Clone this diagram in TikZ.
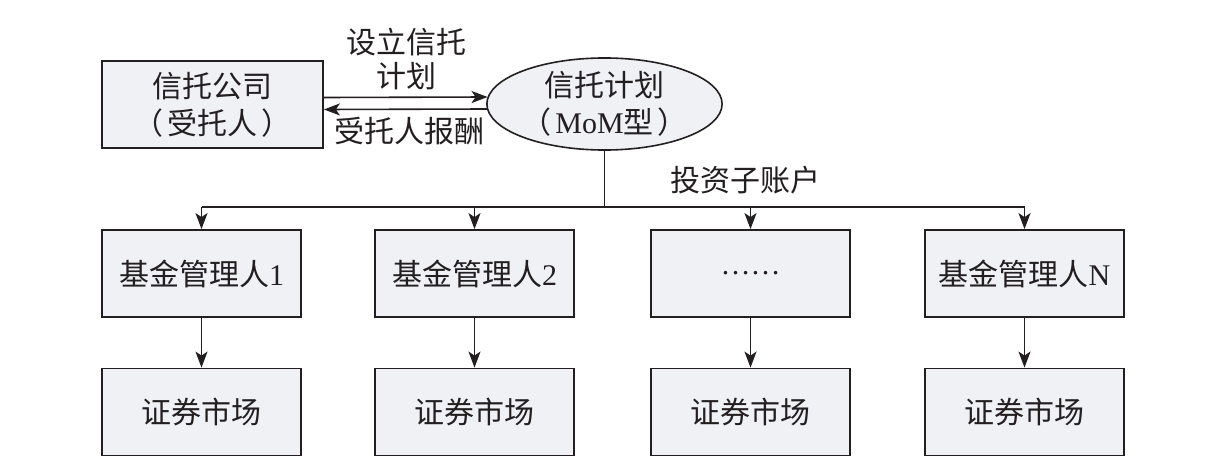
\documentclass[tikz,border=0pt]{standalone}
\usepackage{fontspec}
\setmainfont{Liberation Serif}
\newfontfamily\cjk{Noto Sans CJK SC}
\usetikzlibrary{arrows.meta,shapes.geometric}
\definecolor{boxfill}{HTML}{EFF1F4}
\definecolor{ink}{HTML}{231F20}
\newcommand{\lp}{{\cjk （}\hspace{4pt}}
\newcommand{\rp}{\hspace{4pt}{\cjk ）}}
\begin{document}
\begin{tikzpicture}[x=1pt,y=-1pt,
  every node/.style={text=ink},
  txt/.style={font=\fontsize{30}{36}\selectfont\cjk, align=center, inner sep=0pt},
  boxnode/.style={draw=ink, line width=1.8pt, fill=boxfill, minimum width=199pt, minimum height=87pt, inner sep=0pt, align=center, font=\fontsize{30}{37}\selectfont},
  ellnode/.style={ellipse, draw=ink, line width=1.6pt, fill=boxfill, minimum width=226pt, minimum height=86pt, inner sep=0pt, align=center, font=\fontsize{30}{37}\selectfont},
  conn/.style={draw=ink, line width=1.6pt},
  arr/.style={conn, -{Stealth[length=16pt,width=12pt,inset=4pt]}}
]
\useasboundingbox (0,0) rectangle (1223,468);
\fill[white] (0,0) rectangle (1223,468);

\node[boxnode, minimum width=221pt] (co) at (212.5,104.5) {{\cjk 信托公司}\\\lp{\cjk 受托人}\rp};
\node[ellnode] (pl) at (604.5,104) {{\cjk 信托计划}\\\lp MoM{\cjk 型}\rp};

\node[boxnode] (m1) at (201.5,273.5) {{\cjk 基金管理人}1};
\node[boxnode] (m2) at (474.5,273.5) {{\cjk 基金管理人}2};
\node[boxnode] (m3) at (750.5,273.5) {……};
\node[boxnode] (m4) at (1024.5,273.5) {{\cjk 基金管理人}N};

\node[boxnode] (s1) at (201.5,412) {\cjk 证券市场};
\node[boxnode] (s2) at (474.5,412) {\cjk 证券市场};
\node[boxnode] (s3) at (750.5,412) {\cjk 证券市场};
\node[boxnode] (s4) at (1024.5,412) {\cjk 证券市场};

\node[txt, font=\fontsize{30}{34}\selectfont\cjk] (l1) at (406,59) {设立信托\\计划};
\node[txt] (l2) at (409,131) {受托人报酬};
\node[txt] (l3) at (745,180) {投资子账户};

\draw[arr] ([yshift=7pt]co.east) -- ([yshift=7pt,xshift=1.5pt]pl.west);
\draw[arr] ([yshift=-5pt,xshift=1pt]pl.west) -- ([yshift=-5pt]co.east);

\coordinate (bus) at (604.5,207);
\draw[conn] (pl.south) -- (bus);
\draw[conn] (m1.north |- bus) -- (m4.north |- bus);
\foreach \i in {1,2,3,4}{
  \draw[arr] (m\i.north |- bus) -- (m\i.north);
  \draw[arr] (m\i.south) -- (s\i.north);
}
\end{tikzpicture}
\end{document}
